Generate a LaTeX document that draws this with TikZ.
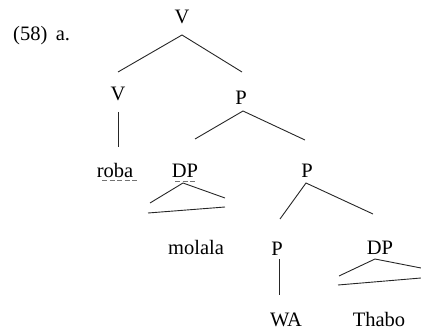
\documentclass[tikz,border=0pt]{standalone}
\usepackage{fontspec}
\setmainfont{Liberation Serif}
\begin{document}
\begin{tikzpicture}[x=1pt,y=-1pt,
  lbl/.style={anchor=base,inner sep=0pt,font=\fontsize{20.5}{22}\selectfont},
  branch/.style={line width=0.9pt,draw=black!85},
  underdash/.style={line width=0.7pt,draw=black!55,dash pattern=on 5pt off 2.5pt}]
\useasboundingbox (0,0) rectangle (421,329);

% labels
\node[lbl,anchor=base west] (ex) at (13,41) {(58)\, a.};
\node[lbl] (vtop) at (182,24) {V};
\node[lbl] (vmid) at (118,101) {V};
\node[lbl] (p1) at (241,105) {P};
\node[lbl] (roba) at (115,178) {roba};
\node[lbl] (dp1) at (185,178) {DP};
\node[lbl] (p2) at (307,177) {P};
\node[lbl] (molala) at (196,254) {molala};
\node[lbl] (p3) at (277,255) {P};
\node[lbl] (dp2) at (380,254) {DP};
\node[lbl] (wa) at (286,326) {WA};
\node[lbl] (thabo) at (379,326) {Thabo};

% branch end points
\coordinate (vtopA) at (182,35);
\coordinate (vmidT) at (118,72);
\coordinate (p1T) at (242,72);
\coordinate (vmidB) at (118,112);
\coordinate (robaT) at (118,147);
\coordinate (p1A) at (243,111);
\coordinate (dp1T) at (195,139);
\coordinate (p2T) at (305,140);
\coordinate (p2A) at (306,183);
\coordinate (p3T) at (280,219);
\coordinate (dp2T) at (373,214);
\coordinate (p3B) at (279,259);
\coordinate (waT) at (279,295);

% triangles
\coordinate (t1A) at (183,183);
\coordinate (t1L) at (150,203);
\coordinate (t1R) at (225,198);
\coordinate (t1BL) at (148,213);
\coordinate (t1BR) at (225,207);
\coordinate (t2A) at (375,259);
\coordinate (t2L) at (339,276);
\coordinate (t2R) at (421,268);
\coordinate (t2BL) at (338,285);
\coordinate (t2BR) at (421,278);

\draw[branch] (vmidT) -- (vtopA) -- (p1T);
\draw[branch] (vmidB) -- (robaT);
\draw[branch] (dp1T) -- (p1A) -- (p2T);
\draw[branch] (p3T) -- (p2A) -- (dp2T);
\draw[branch] (p3B) -- (waT);
\draw[branch] (t1L) -- (t1A) -- (t1R);
\draw[branch] (t1BL) -- (t1BR);
\draw[branch] (t2L) -- (t2A) -- (t2R);
\draw[branch] (t2BL) -- (t2BR);

% dashed underlines
\draw[underdash] (102,180) -- (138,180);
\draw[underdash] (175,181) -- (196,181);
\end{tikzpicture}
\end{document}
